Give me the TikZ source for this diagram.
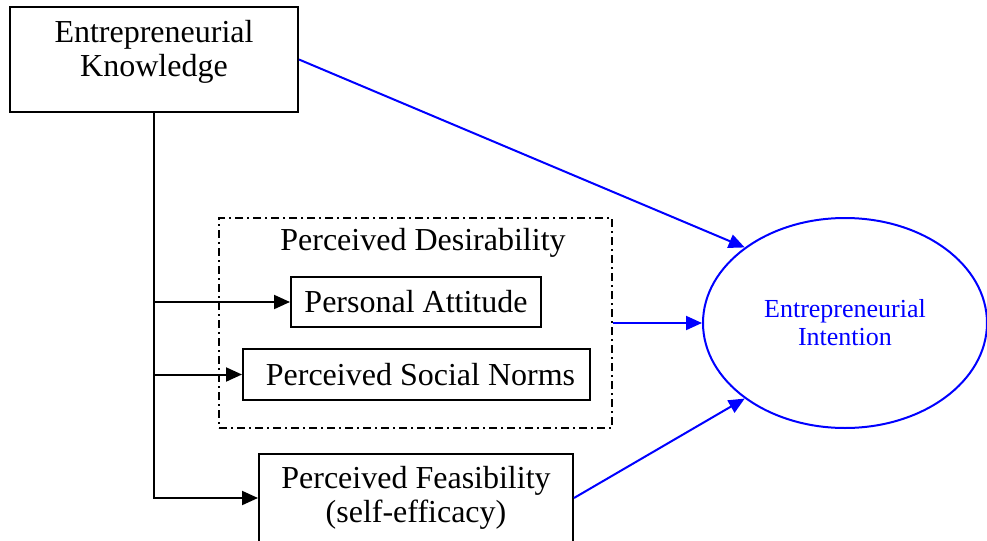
\documentclass[tikz,border=0pt]{standalone}
\usepackage{fontspec}
\setmainfont{Liberation Serif}
\usetikzlibrary{shapes.geometric,arrows.meta}
\begin{document}
\begin{tikzpicture}[x=0.5pt,y=-0.5pt,line width=1pt,font=\fontsize{16}{17}\selectfont,
	>={Triangle[length=8pt,width=7pt]},
	varbox/.style={draw,align=center,inner sep=0pt},
	groupbox/.style={draw,dash pattern=on 4pt off 2pt on 1pt off 2pt,minimum width=196.5pt,minimum height=105pt,inner sep=0pt},
	target/.style={draw=blue,ellipse,text=blue,align=center,minimum width=142pt,minimum height=105pt,inner sep=0pt,font=\fontsize{13}{14}\selectfont},
	bluearrow/.style={->,blue}]
	\useasboundingbox (0,0) rectangle (987,541);
	\node[varbox,minimum width=144pt,minimum height=52.5pt] (know) at (154,59.5) {};
	\node[align=center] (knowtext) at (154,52) {Entrepreneurial\\Knowledge};
	\node[groupbox] (desir) at (415.5,323) {};
	\node (desirlabel) at (423,243) {Perceived Desirability};
	\node[varbox,minimum width=125pt,minimum height=25pt] (att) at (416,302) {Personal Attitude};
	\node[varbox,minimum width=173.5pt,minimum height=25.5pt] (norm) at (416.5,374.5) {\hspace*{4pt}Perceived Social Norms};
	\node[varbox,minimum width=157pt,minimum height=44pt] (feas) at (416,498) {Perceived Feasibility\\(self-efficacy)};
	\node[target] (intent) at (845,323) {Entrepreneurial\\Intention};
	% knowledge to the antecedents
	\draw[->] (know.south) |- (feas.west);
	\draw[->] (know.south |- att.west) -- (att.west);
	\draw[->] (know.south |- norm.west) -- (norm.west);
	% paths to intention
	\draw[bluearrow] (know.east) -- (intent.143);
	\draw[bluearrow] (desir.east) -- (intent.west);
	\draw[bluearrow] (feas.east) -- (intent.217);
\end{tikzpicture}
\end{document}
